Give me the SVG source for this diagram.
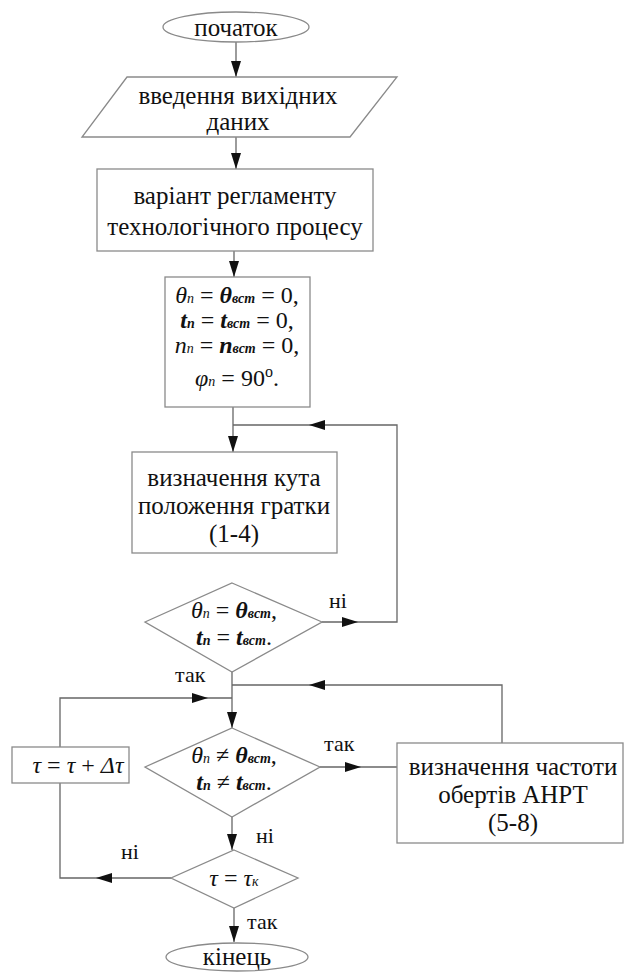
<svg xmlns="http://www.w3.org/2000/svg" width="624" height="972" viewBox="0 0 624 972" font-family="Liberation Serif, Times New Roman, serif">
<defs>
<style>
.shape{fill:#fff;stroke:#8a8a8a;stroke-width:1.3}
.conn{fill:none;stroke:#666;stroke-width:1.3}
text{font-family:"Liberation Serif","DejaVu Serif",serif}
.t{font-size:25px;fill:#111;text-anchor:middle}
.lbl{font-size:22px;fill:#111}
.f{font-size:24px;fill:#111;text-anchor:middle}
.i{font-style:italic}
.bi{font-style:italic;font-weight:bold}
.s{font-size:14px}
.ah{fill:#111;stroke:none}
</style>
<marker id="arr" markerWidth="16" markerHeight="10" refX="16" refY="5" orient="auto" markerUnits="userSpaceOnUse">
<path d="M0,0 L16,5 L0,10 Z" fill="#111"/>
</marker>
</defs>

<g id="connectors">
<line class="conn" x1="236" y1="42" x2="236" y2="77" marker-end="url(#arr)"/>
<line class="conn" x1="236" y1="137" x2="236" y2="169" marker-end="url(#arr)"/>
<line class="conn" x1="234" y1="251" x2="234" y2="277" marker-end="url(#arr)"/>
<line class="conn" x1="233" y1="407" x2="233" y2="452" marker-end="url(#arr)"/>
<polyline class="conn" points="322,622 397,622 397,425 233,425"/>
<line class="conn" x1="232" y1="672" x2="232" y2="728" marker-end="url(#arr)"/>
<polyline class="conn" points="502,743 502,685 232,685"/>
<polyline class="conn" points="171,878 60,878 60,783"/>
<polyline class="conn" points="60,747 60,698 232,698"/>
<line class="conn" x1="320" y1="767" x2="397" y2="767"/>
<line class="conn" x1="232" y1="817" x2="232" y2="850" marker-end="url(#arr)"/>
<line class="conn" x1="234" y1="908" x2="234" y2="942" marker-end="url(#arr)"/>
<path class="ah" d="M358,622 L342,617 L342,627 Z"/>
<path class="ah" d="M309,425 L325,420 L325,430 Z"/>
<path class="ah" d="M309,685 L325,680 L325,690 Z"/>
<path class="ah" d="M208,698 L192,693 L192,703 Z"/>
<path class="ah" d="M361,767 L345,762 L345,772 Z"/>
<path class="ah" d="M96,878 L112,873 L112,883 Z"/>
<text class="lbl" x="329" y="608">ні</text>
<text class="lbl" x="175" y="682">так</text>
<text class="lbl" x="324" y="751">так</text>
<text class="lbl" x="256" y="843">ні</text>
<text class="lbl" x="121" y="859">ні</text>
<text class="lbl" x="247" y="929">так</text>
</g>

<g id="start">
<ellipse class="shape" cx="236" cy="27" rx="73" ry="15"/>
<text class="t" x="236" y="36">початок</text>
</g>

<g id="input">
<polygon class="shape" points="127,77 397,77 350,137 82,137"/>
<text class="t" x="238" y="104">введення вихідних</text>
<text class="t" x="238" y="130">даних</text>
</g>

<g id="variant">
<rect class="shape" x="97" y="169" width="276" height="82"/>
<text class="t" x="235" y="204">варіант регламенту</text>
<text class="t" x="235" y="235">технологічного процесу</text>
</g>

<g id="init">
<rect class="shape" x="165" y="277" width="145" height="130"/>
<text class="f" x="237" y="303"><tspan class="i">θ</tspan><tspan class="i s">n</tspan> = <tspan class="bi">θ</tspan><tspan class="bi s">вст</tspan> = 0,</text>
<text class="f" x="237" y="328"><tspan class="bi">t</tspan><tspan class="bi s">n</tspan> = <tspan class="bi">t</tspan><tspan class="bi s">вст</tspan> = 0,</text>
<text class="f" x="237" y="353"><tspan class="i">n</tspan><tspan class="i s">n</tspan> = <tspan class="bi">n</tspan><tspan class="bi s">вст</tspan> = 0,</text>
<text class="f" x="237" y="386"><tspan class="i">φ</tspan><tspan class="i s">n</tspan> = 90<tspan font-size="16" dy="-9">o</tspan><tspan dy="9">.</tspan></text>
</g>

<g id="angle">
<rect class="shape" x="132" y="452" width="205" height="101"/>
<text class="t" x="234" y="486">визначення кута</text>
<text class="t" x="234" y="514">положення гратки</text>
<text class="t" x="234" y="542">(1-4)</text>
</g>

<g id="check1">
<polygon class="shape" points="232,583 322,622 232,672 145,622"/>
<text class="f" x="234" y="618"><tspan class="i">θ</tspan><tspan class="i s">n</tspan> = <tspan class="bi">θ</tspan><tspan class="bi s">вст</tspan>,</text>
<text class="f" x="234" y="645"><tspan class="bi">t</tspan><tspan class="bi s">n</tspan> = <tspan class="bi">t</tspan><tspan class="bi s">вст</tspan>.</text>
</g>

<g id="check2">
<polygon class="shape" points="232,728 320,767 232,817 145,767"/>
<text class="f" x="234" y="763"><tspan class="i">θ</tspan><tspan class="i s">n</tspan> ≠ <tspan class="bi">θ</tspan><tspan class="bi s">вст</tspan>,</text>
<text class="f" x="234" y="790"><tspan class="bi">t</tspan><tspan class="bi s">n</tspan> ≠ <tspan class="bi">t</tspan><tspan class="bi s">вст</tspan>.</text>
</g>

<g id="freq">
<rect class="shape" x="397" y="743" width="226" height="100"/>
<text class="t" x="513" y="775">визначення частоти</text>
<text class="t" x="513" y="803">обертів АНРТ</text>
<text class="t" x="513" y="831">(5-8)</text>
</g>

<g id="increment">
<rect class="shape" x="12" y="747" width="117" height="36"/>
<text class="f" x="78" y="773" font-size="22"><tspan class="i">τ</tspan> = <tspan class="i">τ</tspan> + <tspan class="i">Δτ</tspan></text>
</g>

<g id="check3">
<polygon class="shape" points="234,850 298,878 234,908 171,878"/>
<text class="f" x="234" y="886"><tspan class="i">τ</tspan> = <tspan class="i">τ</tspan><tspan class="i s">к</tspan></text>
</g>

<g id="end">
<ellipse class="shape" cx="237" cy="957" rx="71" ry="14"/>
<text class="t" x="237" y="965">кінець</text>
</g>
</svg>
